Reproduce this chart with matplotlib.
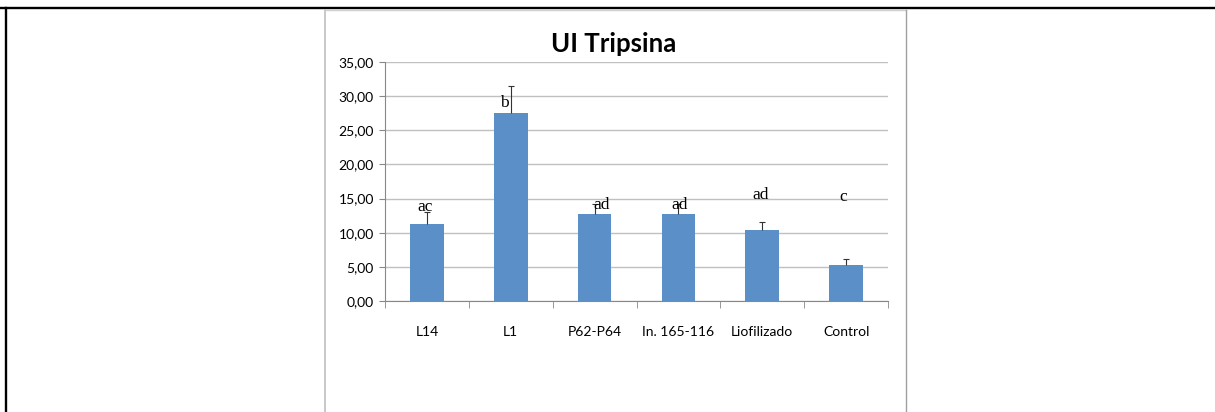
import numpy as np
import matplotlib.pyplot as plt
from matplotlib.lines import Line2D

# Data
categories = ["L14", "L1", "P62-P64", "In. 165-116", "Liofilizado", "Control"]
values = [11.3, 27.5, 12.7, 12.7, 10.4, 5.3]
errors = [1.8, 4.0, 1.5, 1.5, 1.1, 0.85]
letters = ["ac", "b", "ad", "ad", "ad", "c"]
letter_y = [13.7, 29.0, 14.0, 14.0, 15.5, 15.2]
letter_dx = [-0.02, -0.08, 0.08, 0.02, -0.02, -0.03]

W, H = 1215, 412
fig = plt.figure(figsize=(W / 100, H / 100), dpi=100)

# outer table frame and chart box
def px_line(x0, y0, x1, y1, color, lw):
    fig.add_artist(Line2D([x0 / W, x1 / W], [1 - y0 / H, 1 - y1 / H],
                          transform=fig.transFigure, color=color, lw=lw))

px_line(0, 8, W, 8, "black", 1.7)
px_line(5.5, 8, 5.5, H, "black", 1.7)
px_line(325, 10, 906, 10, "#d0d0d0", 1.0)
px_line(325, 10, 325, H, "#c8c8c8", 1.4)
px_line(906, 10, 906, H, "#a0a0a0", 1.0)

ax = fig.add_axes([385 / W, 1 - 301 / H, 503 / W, 239 / H])
x = np.arange(len(categories))
vals = np.array(values)
errs = np.array(errors)
ax.bar(x, vals, width=0.4, color="#5b8fc7", zorder=3)
# upward-only error bars with a cap at the top
ax.vlines(x, vals, vals + errs, color="#333333", lw=0.8, zorder=4)
ax.hlines(vals + errs, x - 0.035, x + 0.035, color="#333333", lw=0.8, zorder=4)

for i, (t, ly) in enumerate(zip(letters, letter_y)):
    ax.text(i + letter_dx[i], ly, t, ha="center", va="center",
            family="Liberation Serif", fontsize=12.5, color="black", zorder=5)

ax.set_xlim(-0.5, len(categories) - 0.5)
ax.set_ylim(0, 35)
ax.set_yticks(np.arange(0, 36, 5))
ax.set_yticklabels([f"{v:.2f}".replace(".", ",") for v in np.arange(0, 36, 5)],
                   family="Lato", fontsize=10)
ax.set_xticks(x)
ax.set_xticklabels(categories, family="Lato", fontsize=10)
ax.set_xticks(np.arange(-0.5, len(categories)), minor=True)
ax.tick_params(axis="x", which="major", length=0, pad=18)
ax.tick_params(axis="x", which="minor", length=5, color="#888888")
ax.tick_params(axis="y", length=4, color="#888888", pad=4)
ax.yaxis.grid(True, color="#c0c0c0", lw=1, zorder=0)
for s in ["top", "right"]:
    ax.spines[s].set_visible(False)
ax.spines["left"].set_color("#888888")
ax.spines["bottom"].set_color("#888888")

fig.text(614 / W, 1 - 44 / H, "UI Tripsina", ha="center", va="center",
         family="Lato", fontweight="bold", fontsize=18.5)

plt.savefig("out.png", dpi=100)
